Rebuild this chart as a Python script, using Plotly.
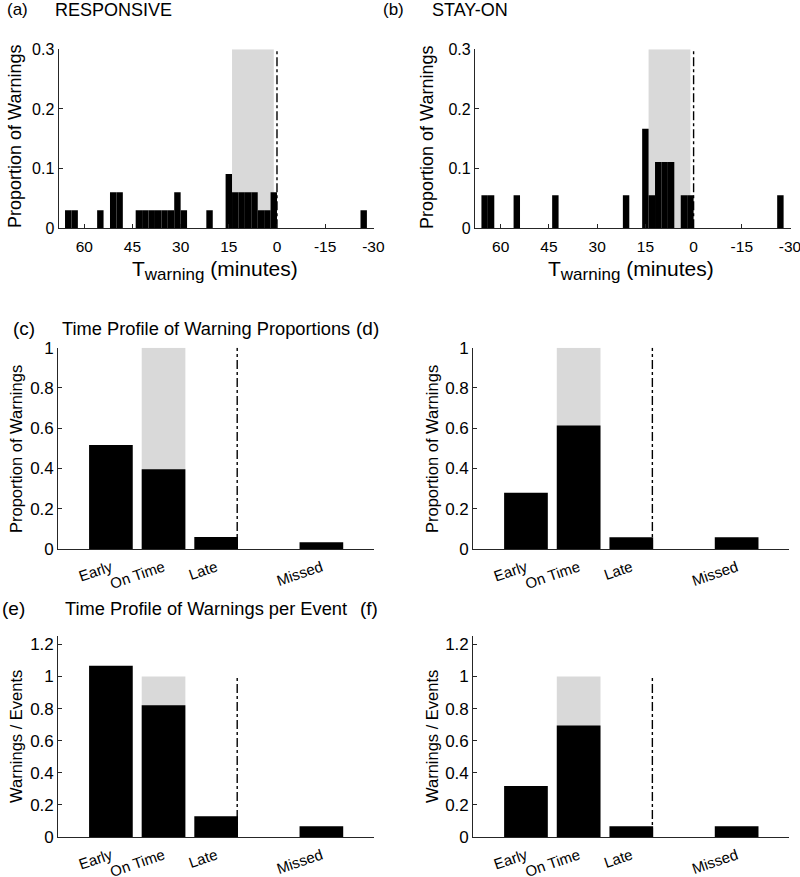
import plotly.graph_objects as go

W, H = 800, 877
FONT = "Liberation Sans, Arial, sans-serif"
INK = "#000000"
AXC = "#262626"
GRAY = "#d9d9d9"

# ---------------- data ----------------
# (a) RESPONSIVE histogram: bin centres (minutes before event) and proportions
hist_a_centers = [65, 63, 55, 51, 49, 43, 41, 39, 37, 35, 33, 31, 29, 21,
                  15, 13, 11, 9, 7, 5, 3, 1, -27]
hist_a_values = [0.0303, 0.0303, 0.0303, 0.0606, 0.0606, 0.0303, 0.0303, 0.0303,
                 0.0303, 0.0303, 0.0303, 0.0606, 0.0303, 0.0303, 0.0909, 0.0606,
                 0.0606, 0.0606, 0.0606, 0.0303, 0.0303, 0.0606, 0.0303]
# (b) STAY-ON histogram
hist_b_centers = [65, 63, 55, 43, 21, 15, 13, 11, 9, 7, 3, 1, -27]
hist_b_values = [0.0556, 0.0556, 0.0556, 0.0556, 0.0556, 0.1667, 0.0556,
                 0.1111, 0.1111, 0.1111, 0.0556, 0.0556, 0.0556]
bin_width = 2
hist_xticks = [60, 45, 30, 15, 0, -15, -30]
hist_xticktext = ["60", "45", "30", "15", "0", "-15", "-30"]
hist_yticks = [0, 0.1, 0.2, 0.3]
hist_xrange = [68, -30.3]
ontime_window = [14, 1]
event_time = 0

# (c)-(f) category bars
categories = ["Early", "On Time", "Late", "Missed"]
cat_pos = [1, 2, 3, 5]
prop_resp = [0.517, 0.396, 0.060, 0.033]
prop_stay = [0.280, 0.614, 0.058, 0.058]
per_event_resp = [1.067, 0.820, 0.130, 0.067]
per_event_stay = [0.318, 0.695, 0.067, 0.067]
ontime_ceiling = 1.0
late_edge = 3.4
prop_yticks = [0, 0.2, 0.4, 0.6, 0.8, 1]
event_yticks = [0, 0.2, 0.4, 0.6, 0.8, 1, 1.2]

# ---------------- layout helpers ----------------
def dx(a, b):
    return [a / W, b / W]

def dy(top, bottom):
    return [1 - bottom / H, 1 - top / H]

panels = {
    "a": (dx(58.6, 374.3), dy(49.3, 228.3)),
    "b": (dx(475.0, 791.0), dy(49.3, 228.3)),
    "c": (dx(58.3, 374.0), dy(347.7, 549.0)),
    "d": (dx(473.3, 789.3), dy(347.7, 549.0)),
    "e": (dx(58.3, 374.0), dy(636.3, 837.0)),
    "f": (dx(473.3, 789.3), dy(636.3, 837.0)),
}
order = ["a", "b", "c", "d", "e", "f"]

fig = go.Figure()
layout = dict(
    width=W, height=H, margin=dict(l=0, r=0, t=0, b=0, pad=0, autoexpand=False),
    paper_bgcolor="white", plot_bgcolor="white",
    showlegend=False, barmode="overlay",
    font=dict(family=FONT, color=INK),
)
shapes = []
annotations = []

for i, key in enumerate(order):
    n = "" if i == 0 else str(i + 1)
    xa, ya = "xaxis" + n, "yaxis" + n
    xr, yr = "x" + n, "y" + n
    xd, yd = panels[key]
    hist = key in ("a", "b")
    xax = dict(domain=xd, anchor=yr, showline=True, linecolor=AXC, linewidth=1.2,
               showgrid=False, zeroline=False, mirror=False, automargin=False,
               ticklabeloverflow="allow")
    yax = dict(domain=yd, anchor=xr, showline=True, linecolor=AXC, linewidth=1.2,
               showgrid=False, zeroline=False, ticks="inside", ticklen=4,
               tickcolor=AXC, tickwidth=1, automargin=False, ticklabeloverflow="allow")
    if hist:
        xax.update(range=hist_xrange, tickvals=hist_xticks, ticktext=hist_xticktext,
                   ticks="inside", ticklen=4, tickcolor=AXC, tickfont=dict(size=15.5),
                   ticklabelstandoff=4)
        yax.update(range=[0, 0.3], tickvals=hist_yticks, tickfont=dict(size=16))
    else:
        xax.update(range=[0, 6], tickvals=cat_pos, ticktext=categories, ticks="",
                   tickangle=-19, tickfont=dict(size=15), ticklabelstandoff=3)
        if key in ("c", "d"):
            yax.update(range=[0, 1], tickvals=prop_yticks, tickfont=dict(size=17))
        else:
            yax.update(range=[0, 1.25], tickvals=event_yticks, tickfont=dict(size=17))
    layout[xa] = xax
    layout[ya] = yax

    if hist:
        cx = hist_a_centers if key == "a" else hist_b_centers
        vals = hist_a_values if key == "a" else hist_b_values
        shapes.append(dict(type="rect", xref=xr, yref=yr, x0=ontime_window[0],
                           x1=ontime_window[1], y0=0, y1=0.3, fillcolor=GRAY,
                           line=dict(width=0), layer="below"))
        fig.add_trace(go.Bar(x=cx, y=vals, width=bin_width, xaxis=xr, yaxis=yr,
                             marker=dict(color=INK, line=dict(width=0))))
        shapes.append(dict(type="line", xref=xr, yref=yr, x0=event_time, x1=event_time,
                           y0=0, y1=0.3, line=dict(color=INK, width=1.4, dash="dashdot")))
    else:
        vals = {"c": prop_resp, "d": prop_stay, "e": per_event_resp, "f": per_event_stay}[key]
        fig.add_trace(go.Bar(x=[cat_pos[1]], y=[ontime_ceiling], width=0.83, xaxis=xr,
                             yaxis=yr, marker=dict(color=GRAY, line=dict(width=0))))
        fig.add_trace(go.Bar(x=cat_pos, y=vals, width=0.83, xaxis=xr, yaxis=yr,
                             marker=dict(color=INK, line=dict(width=0))))
        shapes.append(dict(type="line", xref=xr, yref=yr, x0=late_edge, x1=late_edge,
                           y0=0, y1=1, line=dict(color=INK, width=1.4, dash="dashdot")))

def ann(text, x, y, size, xanchor="left", yanchor="middle", angle=0):
    annotations.append(dict(text=text, x=x / W, y=1 - y / H, xref="paper", yref="paper",
                            xanchor=xanchor, yanchor=yanchor, showarrow=False,
                            textangle=angle, borderpad=0,
                            font=dict(size=size, family=FONT, color=INK)))

# panel titles
ann("(a)", 6, 9.5, 17)
ann("RESPONSIVE", 54, 9.5, 18)
ann("(b)", 382, 9.5, 17)
ann("STAY-ON", 431, 9.5, 18)
ann("(c)", 12, 328, 19)
ann("Time Profile of Warning Proportions", 61, 328, 18.3)
ann("(d)", 355, 328, 19)
ann("(e)", 1, 608, 19)
ann("Time Profile of Warnings per Event", 64, 608, 18.3)
ann("(f)", 359, 608, 19)

# y-axis titles
ann("Proportion of Warnings", 15, 137, 18, xanchor="center", angle=-90)
ann("Proportion of Warnings", 427, 137, 18, xanchor="center", angle=-90)
ann("Proportion of Warnings", 16, 449, 16.5, xanchor="center", angle=-90)
ann("Proportion of Warnings", 432, 449, 16.5, xanchor="center", angle=-90)
ann("Warnings / Events", 16, 737, 16.5, xanchor="center", angle=-90)
ann("Warnings / Events", 432, 737, 16.5, xanchor="center", angle=-90)

# x-axis titles of histograms
xt = "T<sub><span style='font-size:17px'>warning</span></sub> (minutes)"
ann(xt, 215, 270, 21, xanchor="center")
ann(xt, 631, 270, 21, xanchor="center")

layout["shapes"] = shapes
layout["annotations"] = annotations
fig.update_layout(**layout)
fig.write_html("out.html", config={"displayModeBar": False},
               post_script="document.body.style.margin='0px';document.body.style.overflow='hidden';")
